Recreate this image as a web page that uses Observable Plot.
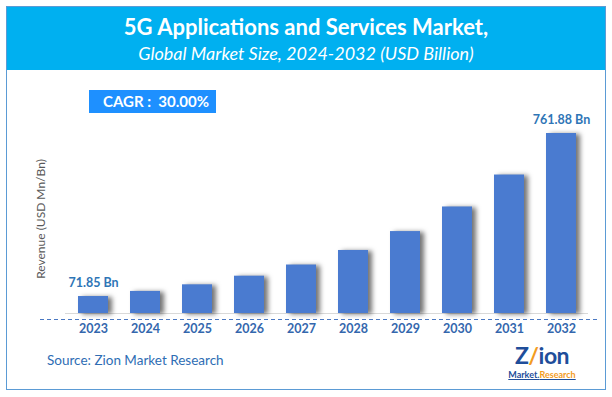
<!DOCTYPE html>
<html>
<head>
<meta charset="utf-8">
<script src="https://cdn.jsdelivr.net/npm/d3@7"></script>
<script src="https://cdn.jsdelivr.net/npm/@observablehq/plot@0.6"></script>
<style>
  html, body { margin: 0; padding: 0; background: #fff; }
  #wrap { position: relative; width: 612px; height: 397px; background: #fff; font-family: Lato, "Open Sans", sans-serif; overflow: hidden; }
  #frame { position: absolute; left: 6px; top: 6px; width: 600px; height: 384px; box-sizing: border-box; border: 1.5px solid #5b9bd5; }
  #header { position: absolute; left: 7px; top: 7px; width: 598px; height: 63px; background: #00b0f0; }
  #title { position: absolute; left: 0; width: 612px; top: 14px; text-align: center; color: #fff; font-weight: bold; font-size: 22px; line-height: 26px; }
  #subtitle { position: absolute; left: 0; width: 612px; top: 42px; text-align: center; color: #fff; font-style: italic; font-size: 18px; line-height: 22px; }
  #chart { position: absolute; left: 0; top: 0; }
  #cagr { position: absolute; left: 89px; top: 90px; width: 127px; height: 23px; background: #1e90ff; color: #fff; font-weight: bold; font-size: 15px; line-height: 23px; text-align: center; box-sizing: border-box; padding-left: 7px; white-space: nowrap; }
  #ylab { position: absolute; left: 40px; top: 219px; transform: translate(-50%, -50%) rotate(-90deg); white-space: nowrap; font-size: 12px; color: #595959; }
  #source { position: absolute; left: 47px; top: 352px; font-size: 13.5px; color: #2e6db4; }
  #logo-big { position: absolute; left: 507px; top: 341px; width: 70px; text-align: center; font-size: 23px; font-weight: bold; color: #1f4e9a; line-height: normal; letter-spacing: -0.5px; }
  #logo-big span { color: #f39c1f; }
  #logo-small { position: absolute; left: 505px; top: 370px; width: 74px; text-align: center; font-size: 9px; font-weight: bold; line-height: 10px; text-decoration: underline; color: #1f4e9a; white-space: nowrap; }
  #logo-small span { color: #f39c1f; }
</style>
</head>
<body>
<div id="wrap">
  <div id="header"></div>
  <div id="frame"></div>
  <div id="title">5G Applications and Services Market,</div>
  <div id="subtitle">Global Market Size, 2024-2032 (USD Billion)</div>
  <div id="chart"></div>
  <div id="cagr">CAGR :&nbsp; 30.00%</div>
  <div id="ylab">Revenue (USD Mn/Bn)</div>
  <div id="source">Source: Zion Market Research</div>
  <div id="logo-big">Z<span>/</span>ion</div>
  <div id="logo-small">Market.<span>Research</span></div>
</div>
<script>
const years = ["2023", "2024", "2025", "2026", "2027", "2028", "2029", "2030", "2031", "2032"];
const revenue = [71.85, 93.4, 121.4, 157.9, 205.2, 266.8, 346.8, 450.9, 586.1, 761.88];
const valueLabels = ["71.85 Bn", "", "", "", "", "", "", "", "", "761.88 Bn"];

const data = years.map((year, i) => ({ year, value: revenue[i], label: valueLabels[i] }));

const chart = Plot.plot({
  width: 612,
  height: 397,
  marginTop: 133,
  marginBottom: 84,
  marginLeft: 40,
  marginRight: 12,
  style: { background: "transparent", fontFamily: "Lato, 'Open Sans', sans-serif", overflow: "visible" },
  x: { domain: years, range: [53.5, 600], padding: 0.43, label: null },
  y: { domain: [0, 761.88], axis: null },
  marks: [
    Plot.ruleY([0], { stroke: "#d9d9d9", strokeWidth: 1.2, insetLeft: 25, insetRight: 12 }),
    Plot.ruleY([0], { dy: 6, stroke: "#4a78c2", strokeWidth: 1, strokeDasharray: "4,3" }),
    Plot.barY(data, {
      x: "year", y: "value", fill: "#4a7bd0",
      imageFilter: "drop-shadow(4px 1px 2.5px rgba(0,0,0,0.55))"
    }),
    Plot.text(data.filter(d => d.label), {
      x: "year", y: "value", text: "label", dy: -14,
      fill: "#2e75b6", fontWeight: "bold", fontSize: 12.5
    }),
    Plot.axisX({
      tickSize: 0, tickPadding: 11, fontSize: 12.5, fontWeight: "bold",
      fill: "#3467ad", label: null
    })
  ]
});
document.getElementById("chart").appendChild(chart);
</script>
</body>
</html>
